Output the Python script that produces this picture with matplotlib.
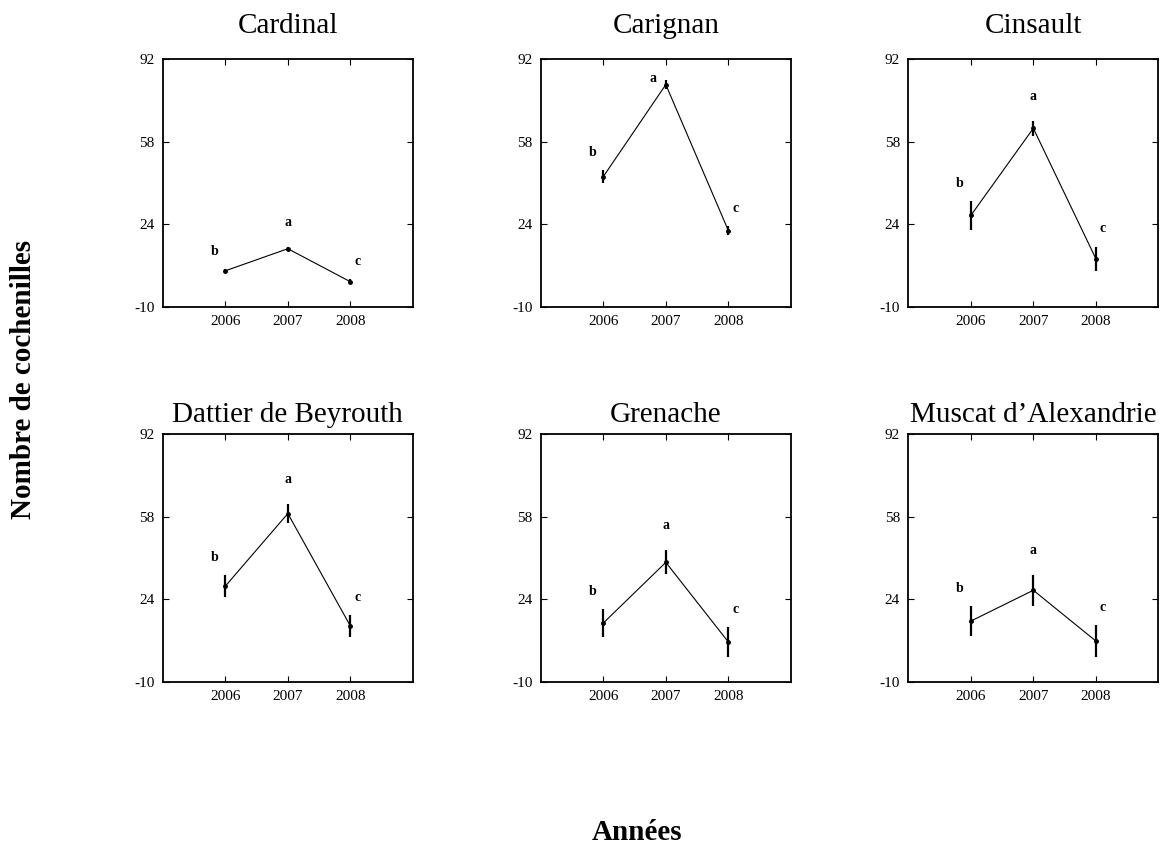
import numpy as np
import matplotlib
matplotlib.use('Agg')
import matplotlib.pyplot as plt

plt.rcParams['font.family'] = ['Liberation Serif', 'DejaVu Serif']
plt.rcParams['axes.unicode_minus'] = False

years = [2006, 2007, 2008]
letters = ['b', 'a', 'c']
cultivars = ['Cardinal', 'Carignan', 'Cinsault',
             'Dattier de Beyrouth', 'Grenache', "Muscat d\u2019Alexandrie"]

cardinal = [4.9, 14.0, 0.4]
carignan = [43.7, 81.6, 21.5]
cinsault = [27.7, 63.6, 9.9]
dattier = [29.4, 59.3, 13.0]
grenache = [14.2, 39.2, 6.4]
muscat = [15.0, 27.7, 6.8]

cardinal_err = [0.8, 0.8, 1.0]
carignan_err = [2.7, 2.0, 2.0]
cinsault_err = [5.8, 3.0, 5.0]
dattier_err = [4.5, 4.0, 4.5]
grenache_err = [5.7, 5.0, 6.0]
muscat_err = [6.3, 6.3, 6.6]

means = [cardinal, carignan, cinsault, dattier, grenache, muscat]
errs = [cardinal_err, carignan_err, cinsault_err, dattier_err, grenache_err, muscat_err]

yticks = [-10, 24, 58, 92]

fig = plt.figure(figsize=(11.63, 8.48), dpi=100)

lefts = [0.140, 0.465, 0.781]
bottoms = [0.638, 0.196]
w, h = 0.215, 0.292

letter_off = {'b': (-8, 8), 'a': (0, 13), 'c': (5, 8)}

for i, name in enumerate(cultivars):
    row, col = divmod(i, 3)
    ax = fig.add_axes([lefts[col], bottoms[row], w, h])
    m = means[i]
    e = errs[i]
    ax.plot(years, m, color='black', linewidth=0.8)
    ax.errorbar(years, m, yerr=e, fmt='o', color='black', ms=2.5,
                elinewidth=1.6, capsize=0)
    for x, y, err, lt in zip(years, m, e, letters):
        off = letter_off[lt]
        if y + err > 75:
            # no room above: put the letter to the left
            off = (-9, -4)
        ax.annotate(lt, (x, y + err), xytext=off,
                    textcoords='offset points', ha='center', va='bottom',
                    fontsize=10, fontweight='bold')
    ax.set_xlim(2005, 2009)
    ax.set_ylim(-10, 92)
    ax.set_xticks(years)
    ax.set_yticks(yticks)
    ax.tick_params(direction='in', top=True, right=True, length=4,
                   labelsize=11, pad=6)
    for s in ax.spines.values():
        s.set_linewidth(1.3)
    ax.set_title(name, fontsize=21, pad=19 if row == 0 else 9)

fig.text(0.02, 0.553, 'Nombre de cochenilles', rotation=90, va='center',
         ha='center', fontsize=21, fontweight='bold')
fig.text(0.548, 0.018, 'Années', ha='center', va='center',
         fontsize=21, fontweight='bold')

fig.savefig('out.png', dpi=100)
